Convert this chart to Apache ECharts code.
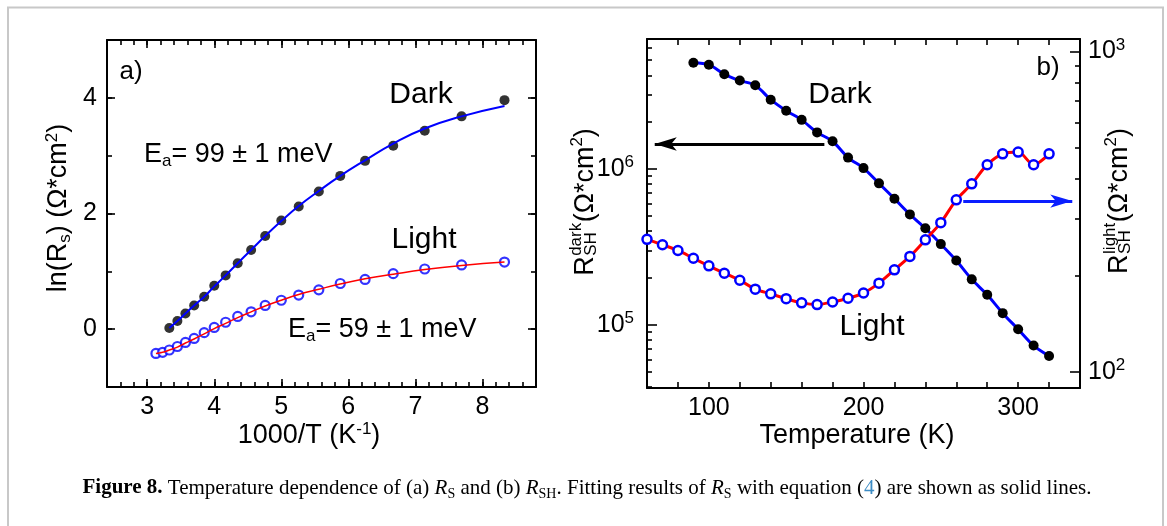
<!DOCTYPE html>
<html><head><meta charset="utf-8">
<script src="https://cdn.jsdelivr.net/npm/echarts@6/dist/echarts.min.js"></script>
<style>html,body{margin:0;padding:0;background:#fff}#c{width:1167px;height:526px}</style>
</head><body><div id="c"></div>
<script>
// ---------- Panel (a): ln(Rs) vs 1000/T ----------
const aDarkX   = [3.33,3.45,3.57,3.70,3.85,4.00,4.17,4.35,4.55,4.76,5.00,5.26,5.56,5.88,6.25,6.67,7.14,7.69,8.33];
const aDarkY   = [0.02,0.14,0.27,0.41,0.56,0.75,0.93,1.14,1.37,1.61,1.88,2.12,2.38,2.65,2.91,3.17,3.43,3.68,3.96];
const aDarkFit = [0.02,0.14,0.27,0.41,0.56,0.74,0.93,1.14,1.37,1.61,1.87,2.13,2.39,2.65,2.92,3.21,3.47,3.68,3.86];
const aLightX   = [3.13,3.23,3.33,3.45,3.57,3.70,3.85,4.00,4.17,4.35,4.55,4.76,5.00,5.26,5.56,5.88,6.25,6.67,7.14,7.69,8.33];
const aLightY   = [-0.42,-0.40,-0.36,-0.30,-0.23,-0.16,-0.06,0.03,0.12,0.22,0.30,0.41,0.50,0.59,0.68,0.79,0.86,0.96,1.04,1.11,1.16];
const aLightFit = [-0.42,-0.40,-0.36,-0.31,-0.24,-0.17,-0.08,0.01,0.10,0.20,0.30,0.40,0.50,0.60,0.69,0.78,0.87,0.95,1.03,1.10,1.16];
const aXTicks = [3,4,5,6,7,8];
const aYTicks = [0,2,4];

// ---------- Panel (b): R_SH vs Temperature ----------
const bDarkT = [90,100,110,120,130,140,150,160,170,180,190,200,210,220,230,240,250,260,270,280,290,300,310,320];
const bDarkR = [4.82e6,4.68e6,4.06e6,3.70e6,3.45e6,2.79e6,2.37e6,2.07e6,1.72e6,1.51e6,1.185e6,1.015e6,8.1e5,6.46e5,5.12e5,4.17e5,3.30e5,2.59e5,1.96e5,1.56e5,1.19e5,9.38e4,7.37e4,6.32e4];
const bLightT = [60,70,80,90,100,110,120,130,140,150,160,170,180,190,200,210,220,230,240,250,260,270,280,290,300,310,320];
const bLightR = [259,249,239,226,214,203,193,181,175,169,164,162,165,169.5,176,189,208,229,258,292,344,386,443,479,485,443,479];
const bLeftMajor  = [1e5,1e6];
const bLeftMinor  = [4e4,5e4,6e4,7e4,8e4,9e4,2e5,3e5,4e5,5e5,6e5,7e5,8e5,9e5,2e6,3e6,4e6,5e6,6e6];
const bRightMajor = [100,1000];
const bRightMinor = [200,300,400,500,600,700,800,900];
const bArrowDark  = {from:[174.7,1.45e6], to:[65,1.45e6]};
const bArrowLight = {from:[264.5,341], to:[335,341]};

const FF = '"Liberation Sans", Arial, Helvetica, sans-serif';
const SERIF = '"Liberation Serif", "Times New Roman", serif';
const BLUE = '#0000ff', RED = '#ff0000';

const mctx = document.createElement('canvas').getContext('2d');
function tw(t, size){ mctx.font = size + 'px ' + FF; return mctx.measureText(t).width; }

const richSS = {
  sup: {fontSize:17, fontFamily:FF, verticalAlign:'top', lineHeight:14, fill:'#000'},
  sub: {fontSize:17, fontFamily:FF, verticalAlign:'bottom', lineHeight:14, fill:'#000'}
};

function baseAx(o){
  const d = {type:'value', splitLine:{show:false}, axisLine:{show:false, onZero:false},
    axisLabel:{show:false}, axisTick:{show:false}, silent:true};
  return Object.assign(d, o);
}
const frame = {show:true, onZero:false, lineStyle:{color:'#000', width:2}};
const tk = (len, extra) => Object.assign({show:true, inside:true, length:len, lineStyle:{color:'#000', width:1.6}}, extra||{});

const xAxis = [
  baseAx({gridIndex:0, position:'bottom', min:2.4, max:8.8, axisLine:frame,
    axisTick:tk(8,{customValues:aXTicks}),
    axisLabel:{show:true, customValues:aXTicks, fontSize:25, fontFamily:FF, color:'#000', margin:8}}),
  baseAx({gridIndex:0, position:'bottom', min:2.4, max:8.8, interval:0.2, axisTick:tk(5)}),
  baseAx({gridIndex:0, position:'top', min:2.4, max:8.8, axisLine:frame, axisTick:tk(8,{customValues:aXTicks})}),
  baseAx({gridIndex:0, position:'top', min:2.4, max:8.8, interval:0.2, axisTick:tk(5)}),
  baseAx({gridIndex:1, position:'bottom', min:60, max:340, interval:20, axisLine:frame, axisTick:tk(6),
    axisLabel:{show:true, fontSize:25, fontFamily:FF, color:'#000', margin:8,
      formatter: v => (Math.round(v) % 100 === 0 ? String(Math.round(v)) : '')}}),
  baseAx({gridIndex:1, position:'top', min:60, max:340, interval:20, axisLine:frame, axisTick:tk(6)})
];

const logLabel = (margin) => ({show:true, fontSize:25, fontFamily:FF, color:'#000', margin, lineHeight:30,
  rich:{sup:{fontSize:17, fontFamily:FF, color:'#000', verticalAlign:'top', lineHeight:14}},
  formatter: v => '10{sup|' + Math.round(Math.log10(v)) + '}'});

const yAxis = [
  baseAx({gridIndex:0, position:'left', min:-1, max:5, axisLine:frame,
    axisTick:tk(8,{customValues:aYTicks}),
    axisLabel:{show:true, customValues:aYTicks, fontSize:25, fontFamily:FF, color:'#000', margin:10}}),
  baseAx({gridIndex:0, position:'left', min:-1, max:5, interval:1, axisTick:tk(5)}),
  baseAx({gridIndex:0, position:'right', min:-1, max:5, axisLine:frame, axisTick:tk(8,{customValues:aYTicks})}),
  baseAx({gridIndex:0, position:'right', min:-1, max:5, interval:1, axisTick:tk(5)}),
  baseAx({gridIndex:1, position:'left', type:'log', logBase:10, min:39355, max:6.84e6, axisLine:frame,
    axisTick:tk(10,{customValues:bLeftMajor}),
    axisLabel:Object.assign(logLabel(13), {customValues:bLeftMajor})}),
  baseAx({gridIndex:1, position:'left', type:'log', logBase:10, min:39355, max:6.84e6,
    axisTick:tk(5,{customValues:bLeftMinor})}),
  baseAx({gridIndex:1, position:'right', type:'log', logBase:10, min:88.9, max:1094, axisLine:frame,
    axisTick:tk(10,{customValues:bRightMajor}),
    axisLabel:Object.assign(logLabel(8), {customValues:bRightMajor})}),
  baseAx({gridIndex:1, position:'right', type:'log', logBase:10, min:88.9, max:1094,
    axisTick:tk(5,{customValues:bRightMinor})})
];

function txt(x, y, text, size, extra){
  const st = Object.assign({text, fontSize:size, fontFamily:FF, fill:'#000', align:'center', verticalAlign:'middle',
    lineHeight:30, rich:richSS}, extra && extra.style || {});
  const el = {type:'text', x, y, silent:true, style:st};
  if (extra && extra.rotation !== undefined) el.rotation = extra.rotation;
  return el;
}

function stackTitle(cx, cy, sup, sub){
  const big = 27, small = 17;
  const wR = tw('R', big), wS = Math.max(tw(sup, small), tw(sub, small));
  const w1 = tw('(Ω*cm', big), w2 = tw('2', small), w3 = tw(')', big);
  const total = wR + wS + w1 + w2 + w3 + 1;
  let x = -total/2;
  const mk = (t, s, xx, yy) => ({type:'text', x:xx, y:yy, silent:true,
    style:{text:t, fontSize:s, fontFamily:FF, fill:'#000', align:'left', verticalAlign:'middle'}});
  const ch = [];
  ch.push(mk('R', big, x, 0)); x += wR + 0.5;
  ch.push(mk(sup, small, x, -10)); ch.push(mk(sub, small, x, 5)); x += wS + 0.5;
  ch.push(mk('(Ω*cm', big, x, 0)); x += w1;
  ch.push(mk('2', small, x, -9)); x += w2;
  ch.push(mk(')', big, x, 0));
  return {type:'group', x:cx, y:cy, rotation:Math.PI/2, silent:true, children:ch};
}

const captionRich = {
  b:   {fontFamily:SERIF, fontSize:21, fontWeight:'bold', fill:'#000', lineHeight:26},
  i:   {fontFamily:SERIF, fontSize:21, fontStyle:'italic', fill:'#000', lineHeight:26},
  s:   {fontFamily:SERIF, fontSize:14, fill:'#000', verticalAlign:'bottom', lineHeight:18},
  l:   {fontFamily:SERIF, fontSize:21, fill:'#3d8cc4', lineHeight:26}
};
const captionText = '{b|Figure 8.} Temperature dependence of (a) {i|R}{s|S} and (b) {i|R}{s|SH}. Fitting results of {i|R}{s|S} with equation ({l|4}) are shown as solid lines.';

const graphic = [
  {type:'rect', silent:true, shape:{x:8, y:7.5, width:1155, height:540}, style:{fill:'none', stroke:'#c8c8c8', lineWidth:2}},
  // panel a texts
  txt(131, 72, 'a)', 26),
  txt(421, 95, 'Dark', 30),
  txt(424, 240, 'Light', 30),
  txt(144, 155, 'E{sub|a}= 99 ± 1 meV', 27, {style:{align:'left'}}),
  txt(288, 330, 'E{sub|a}= 59 ± 1 meV', 27, {style:{align:'left'}}),
  txt(59, 208, 'ln(R{sub|s}) (Ω*cm{sup|2})', 27, {rotation:Math.PI/2}),
  txt(309, 436, '1000/T (K{sup|-1})', 27),
  // panel b texts
  txt(1048, 68, 'b)', 26),
  txt(840, 95, 'Dark', 30),
  txt(872, 327, 'Light', 30),
  txt(857, 436, 'Temperature (K)', 27),
  stackTitle(586, 202, 'dark', 'SH'),
  stackTitle(1120, 201, 'light', 'SH'),
  // caption
  {type:'text', x:587, y:488, silent:true, style:{text:captionText, rich:captionRich, fontFamily:SERIF, fontSize:21,
    fill:'#000', align:'center', verticalAlign:'middle', lineHeight:26}}
];

const zip = (xs, ys) => xs.map((x, i) => [x, ys[i]]);

const option = {
  animation:false,
  backgroundColor:'#fff',
  textStyle:{fontFamily:FF},
  grid:[
    {left:107, top:40, width:429, height:347, outerBoundsMode:'none', containLabel:false},
    {left:647, top:39, width:433, height:349, outerBoundsMode:'none', containLabel:false}
  ],
  xAxis, yAxis, graphic,
  series:[
    {type:'scatter', xAxisIndex:0, yAxisIndex:0, data:zip(aDarkX, aDarkY), symbol:'circle', symbolSize:10,
      itemStyle:{color:'#000'}, z:2, silent:true},
    {type:'scatter', xAxisIndex:0, yAxisIndex:0, data:zip(aLightX, aLightY), symbol:'circle', symbolSize:9,
      itemStyle:{color:'#fff', borderColor:BLUE, borderWidth:2.2}, z:2, silent:true},
    {type:'line', xAxisIndex:0, yAxisIndex:0, data:zip(aDarkX, aDarkFit), smooth:true, symbol:'none',
      lineStyle:{color:BLUE, width:2}, z:3, silent:true},
    {type:'line', xAxisIndex:0, yAxisIndex:0, data:zip(aLightX, aLightFit), smooth:true, symbol:'none',
      lineStyle:{color:RED, width:1.5}, z:3, silent:true},
    {type:'line', xAxisIndex:4, yAxisIndex:4, data:zip(bDarkT, bDarkR), smooth:0.3, symbol:'circle', symbolSize:10,
      showAllSymbol:true, lineStyle:{color:BLUE, width:3}, itemStyle:{color:'#000'}, z:3, silent:true,
      markLine:{silent:true, symbol:['none','arrow'], symbolSize:[10,22], label:{show:false},
        lineStyle:{color:'#000', width:3, type:'solid'},
        data:[[{coord:bArrowDark.from}, {coord:bArrowDark.to}]]}},
    {type:'line', xAxisIndex:4, yAxisIndex:6, data:zip(bLightT, bLightR), smooth:0.3, symbol:'circle', symbolSize:9,
      showAllSymbol:true, lineStyle:{color:RED, width:3}, itemStyle:{color:'#fff', borderColor:BLUE, borderWidth:2.5}, z:4, silent:true,
      markLine:{silent:true, symbol:['none','arrow'], symbolSize:[10,22], label:{show:false},
        lineStyle:{color:'#0a1eff', width:3, type:'solid'},
        data:[[{coord:bArrowLight.from}, {coord:bArrowLight.to}]]}}
  ]
};

const chart = echarts.init(document.getElementById('c'), null, {renderer:'canvas'});
chart.setOption(option);
</script>
</body></html>
